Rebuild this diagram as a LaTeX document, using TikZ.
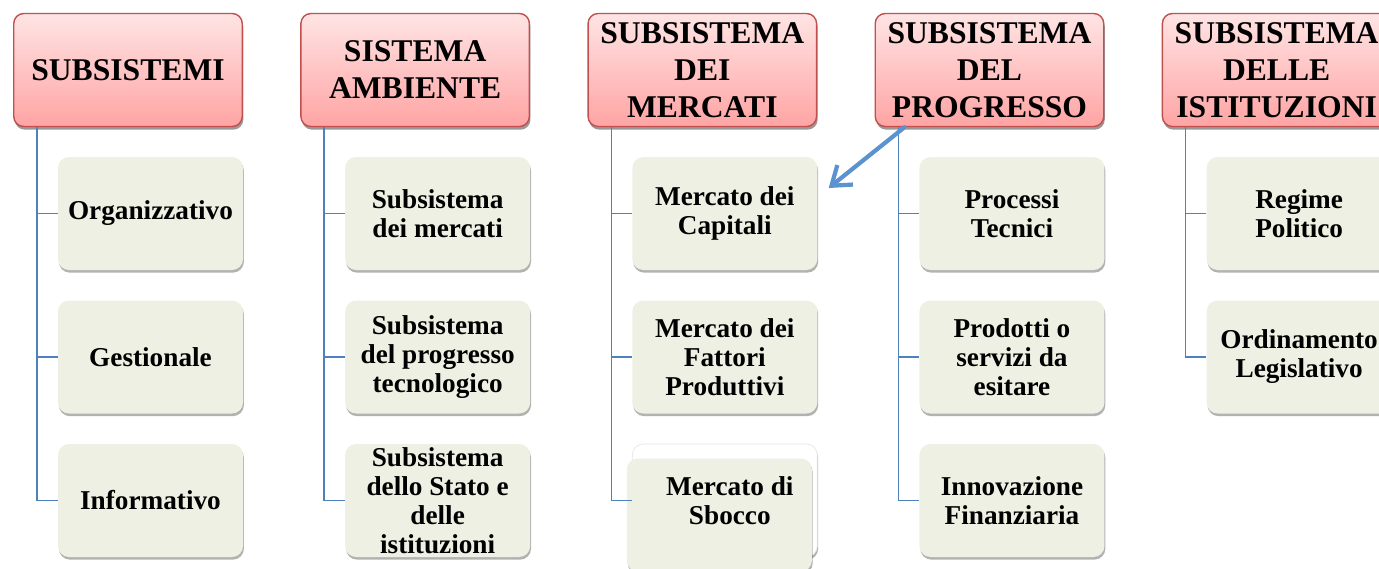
\documentclass[tikz,border=0pt]{standalone}
\usepackage{fontspec}
\setmainfont{Liberation Serif}
\usetikzlibrary{positioning,shadows,arrows.meta}
\definecolor{headtop}{HTML}{FFE4E4}
\definecolor{headbot}{HTML}{FFA4A4}
\definecolor{headline}{HTML}{C0504D}
\definecolor{itemfill}{HTML}{EDF0E2}
\definecolor{linkblue}{HTML}{4F81BD}
\definecolor{arrowblue}{HTML}{5B93D0}
\begin{document}
\begin{tikzpicture}[
    head/.style = {draw=headline, line width=0.8pt, rounded corners=0.2cm,
        top color=headtop, bottom color=headbot,
        minimum width=4.57cm, minimum height=2.26cm, inner sep=1pt, align=center,
        font=\bfseries\fontsize{18}{21}\selectfont,
        drop shadow={shadow xshift=0.6pt, shadow yshift=-1.8pt, fill=black, opacity=0.4}},
    item/.style = {fill=itemfill, rounded corners=0.22cm,
        minimum width=3.7cm, minimum height=2.26cm, inner sep=0pt, align=center,
        font=\bfseries\fontsize{15.5}{16.5}\selectfont,
        drop shadow={shadow xshift=0.5pt, shadow yshift=-1.5pt, fill=black, opacity=0.3}},
    label/.style = {align=center, inner sep=0pt, font=\bfseries\fontsize{15.5}{16.5}\selectfont},
    link/.style = {draw=linkblue, line width=0.9pt},
    pointer/.style = {draw=arrowblue, line width=2.4pt, line cap=round,
        -{Straight Barb[length=3.5mm, width=5mm]}},
    node distance=2.87cm]
    \useasboundingbox (0,0) rectangle (27.58,-11.36);
    \clip (0,0) rectangle (27.58,-11.36);
    % column heads
    \node[head] (h1) at (2.56,-1.40) {SUBSISTEMI};
    \node[head, right=1.145cm of h1] (h2) {SISTEMA\\AMBIENTE};
    \node[head, right=1.145cm of h2] (h3) {SUBSISTEMA\\DEI\\MERCATI};
    \node[head, right=1.145cm of h3] (h4) {SUBSISTEMA\\DEL\\PROGRESSO};
    \node[head, right=1.145cm of h4] (h5) {SUBSISTEMA\\DELLE\\ISTITUZIONI};
    % items
    \node[item, below of=h1, xshift=0.45cm] (c11) {Organizzativo};
    \node[item, below of=c11] (c12) {Gestionale};
    \node[item, below of=c12] (c13) {Informativo};
    \node[item, below of=h2, xshift=0.45cm] (c21) {Subsistema\\dei mercati};
    \node[item, below of=c21] (c22) {Subsistema\\del progresso\\tecnologico};
    \node[item, below of=c22] (c23) {Subsistema\\dello Stato e\\delle\\istituzioni};
    \node[item, below of=h3, xshift=0.45cm] (c31) {Mercato dei\\Capitali};
    \node[item, below of=c31] (c32) {Mercato dei\\Fattori\\Produttivi};
    \node[item, below of=c32, fill=white, draw=black!10] (c33) {};
    \node[item] (c33g) at ([xshift=-0.11cm, yshift=-0.29cm]c33.center) {};
    \node[label] (c33t) at ([xshift=0.1cm]c33.center) {Mercato di\\Sbocco};
    \node[item, below of=h4, xshift=0.45cm] (c41) {Processi\\Tecnici};
    \node[item, below of=c41] (c42) {Prodotti o\\servizi da\\esitare};
    \node[item, below of=c42] (c43) {Innovazione\\Finanziaria};
    \node[item, below of=h5, xshift=0.45cm] (c51) {Regime\\Politico};
    \node[item, below of=c51] (c52) {Ordinamento\\Legislativo};
    % tree lines
    \foreach \c/\n in {1/3,2/3,3/3,4/3,5/2}
        \foreach \r in {1,...,\n}
            \draw[link] ([xshift=0.48cm]h\c.south west) |- (c\c\r.west);
    \draw[pointer] ([xshift=0.6cm]h4.south west) -- ([xshift=0.22cm, yshift=0.51cm]c31.east);
\end{tikzpicture}
\end{document}
